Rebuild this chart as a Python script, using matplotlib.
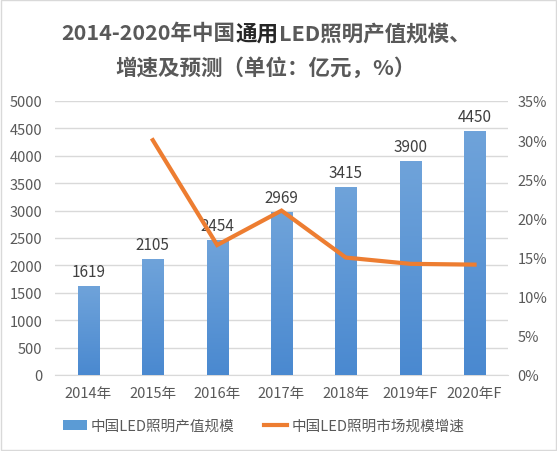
import matplotlib
matplotlib.use("Agg")
import matplotlib.pyplot as plt
import numpy as np
from matplotlib.patches import Rectangle, Patch
from matplotlib.lines import Line2D

plt.rcParams['font.family'] = ['Noto Sans CJK SC', 'DejaVu Sans']

categories = ['2014年', '2015年', '2016年', '2017年', '2018年', '2019年F', '2020年F']
values = [1619, 2105, 2454, 2969, 3415, 3900, 4450]
growth = [None, 30.0, 16.6, 21.0, 15.0, 14.2, 14.1]
bar_label = '中国LED照明产值规模'
line_label = '中国LED照明市场规模增速'
title_parts = ['2014-2020年中国', '通用', 'LED照明产值规模、']
title_line2 = '增速及预测（单位：亿元，%）'

W, H = 557, 452
fig = plt.figure(figsize=(W/100, H/100), dpi=100)
fig.patches.append(Rectangle((0.002, 0.002), 0.996, 0.996, transform=fig.transFigure,
                             fill=False, edgecolor='#d9d9d9', linewidth=1))
ax = fig.add_axes([55/W, 1-376/H, (508-55)/W, (376-102)/H])
ax2 = ax.twinx()

x = np.arange(len(categories))
cmap = matplotlib.colors.LinearSegmentedColormap.from_list('g', ['#4a89d0', '#6fa3da'])
bars = ax.bar(x, values, width=0.33, color='none', edgecolor='none', zorder=3)
for b in bars:
    x0, w, h = b.get_x(), b.get_width(), b.get_height()
    grad = np.linspace(0, 1, 100).reshape(-1, 1)
    ax.imshow(grad, extent=[x0, x0 + w, 0, h], origin='lower', aspect='auto',
              cmap=cmap, zorder=3)
for xi, v in zip(x, values):
    ax.text(xi, v + 120, str(v), ha='center', va='bottom', fontsize=11, color='#404040')

ax.set_xlim(-0.52, len(categories) - 0.48)
ax.set_ylim(0, 5000)
ax.set_yticks(range(0, 5001, 500))
ax.grid(axis='y', color='#d9d9d9', linewidth=1, zorder=0)
ax.set_axisbelow(True)

gx = [xi for xi, g in zip(x, growth) if g is not None]
gy = [g for g in growth if g is not None]
ax2.plot(gx, gy, color='#ed7d31', linewidth=3, solid_joinstyle='miter', zorder=4)
ax2.set_ylim(0, 35)
ax2.set_yticks(range(0, 36, 5))
ax2.set_yticklabels([f'{t}%' for t in range(0, 36, 5)])

for a in (ax, ax2):
    for s in a.spines.values():
        s.set_visible(False)
    a.tick_params(length=0, colors='#595959', labelsize=10.5)
ax.spines['bottom'].set_visible(True)
ax.spines['bottom'].set_color('#d9d9d9')
ax.set_xticks(x)
ax.set_xticklabels(categories)
ax.tick_params(axis='x', pad=8)
ax.tick_params(axis='y', pad=9)
ax2.tick_params(axis='y', pad=7)

# Title: line 1 composed of three parts, middle one darker/bolder
fs = 15.5
cx = 266
renderer = fig.canvas.get_renderer()
parts = []
colors = ['#595959', '#262626', '#595959']
weights = ['bold', 'heavy', 'bold']
widths = []
for p, c, wt in zip(title_parts, colors, weights):
    t = fig.text(0, 1-34/H, p, ha='left', va='center', fontsize=fs, fontweight=wt, color=c)
    parts.append(t)
    widths.append(t.get_window_extent(renderer).width)
total = sum(widths)
cur = cx - total / 2
for t, w in zip(parts, widths):
    t.set_x(cur / W)
    cur += w
fig.text(cx / W, 1-68/H, title_line2, ha='center', va='center',
         fontsize=fs, fontweight='bold', color='#595959')

handles = [Patch(facecolor='#5b9bd5'), Line2D([0], [0], color='#ed7d31', linewidth=3)]
fig.legend(handles, [bar_label, line_label], loc='center', bbox_to_anchor=(264/W, 1-427/H),
           ncol=2, frameon=False, fontsize=10.5, labelcolor='#595959', columnspacing=2.0,
           handlelength=1.6, handletextpad=0.3)

fig.savefig('out.png', dpi=100)
